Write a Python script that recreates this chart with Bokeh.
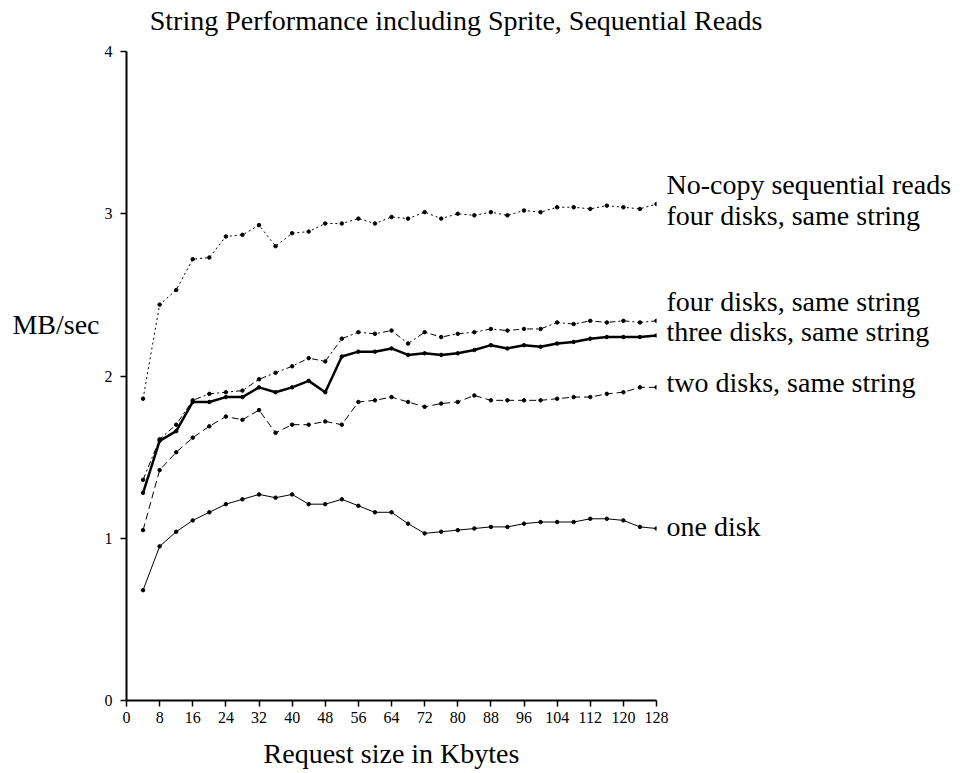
from bokeh.plotting import figure
from bokeh.models import Range1d, FixedTicker, LinearAxis
from bokeh.embed import file_html
from bokeh.resources import INLINE

# Request sizes (Kbytes) and measured throughput (MB/sec)
request_kb = [4, 8, 12, 16, 20, 24, 28, 32, 36, 40, 44, 48, 52, 56, 60, 64,
              68, 72, 76, 80, 84, 88, 92, 96, 100, 104, 108, 112, 116, 120, 124, 128]

nocopy_four = [1.86, 2.44, 2.53, 2.72, 2.73, 2.86, 2.87, 2.93, 2.80, 2.88, 2.89, 2.94,
               2.94, 2.97, 2.94, 2.98, 2.97, 3.01, 2.97, 3.00, 2.99, 3.01, 2.99, 3.02,
               3.01, 3.04, 3.04, 3.03, 3.05, 3.04, 3.03, 3.06]

four_disks = [1.36, 1.61, 1.70, 1.85, 1.89, 1.90, 1.91, 1.98, 2.02, 2.06, 2.11, 2.09,
              2.23, 2.27, 2.26, 2.28, 2.20, 2.27, 2.24, 2.26, 2.27, 2.29, 2.28, 2.29,
              2.29, 2.33, 2.32, 2.34, 2.33, 2.34, 2.33, 2.34]

three_disks = [1.28, 1.60, 1.66, 1.84, 1.84, 1.87, 1.87, 1.93, 1.90, 1.93, 1.97, 1.90,
               2.12, 2.15, 2.15, 2.17, 2.13, 2.14, 2.13, 2.14, 2.16, 2.19, 2.17, 2.19,
               2.18, 2.20, 2.21, 2.23, 2.24, 2.24, 2.24, 2.25]

two_disks = [1.05, 1.42, 1.53, 1.62, 1.69, 1.75, 1.73, 1.79, 1.65, 1.70, 1.70, 1.72,
             1.70, 1.84, 1.85, 1.87, 1.84, 1.81, 1.83, 1.84, 1.88, 1.85, 1.85, 1.85,
             1.85, 1.86, 1.87, 1.87, 1.89, 1.90, 1.93, 1.93]

one_disk = [0.68, 0.95, 1.04, 1.11, 1.16, 1.21, 1.24, 1.27, 1.25, 1.27, 1.21, 1.21,
            1.24, 1.20, 1.16, 1.16, 1.09, 1.03, 1.04, 1.05, 1.06, 1.07, 1.07, 1.09,
            1.10, 1.10, 1.10, 1.12, 1.12, 1.11, 1.07, 1.06]

x_ticks = list(range(0, 129, 8))
y_ticks = [0, 1, 2, 3, 4]

# Curve names written beside the right edge, with the MB/sec height they sit at
curve_names = ["No-copy sequential reads", "four disks, same string",
               "four disks, same string", "three disks, same string",
               "two disks, same string", "one disk"]
curve_name_y = [3.183, 2.992, 2.462, 2.277, 1.957, 1.07]

chart_title = "String Performance including Sprite, Sequential Reads"
chart_title_at = 79.6   # Kbytes position the title is centred over

y_title = "MB/sec"
y_title_at = 2.32

x_title = "Request size in Kbytes"

FONT = "Liberation Serif"

p = figure(width=963, height=773, output_backend="svg", toolbar_location=None,
           title=None,
           x_range=Range1d(0, 128), y_range=Range1d(0, 4),
           min_border_left=126, min_border_right=307,
           min_border_top=51, min_border_bottom=73)
p.outline_line_color = None
p.grid.visible = False
p.background_fill_color = "white"
p.border_fill_color = "white"

for ax in (p.xaxis[0], p.yaxis[0]):
    ax.axis_line_width = 2
    ax.major_tick_line_width = 1.5
    ax.major_tick_in = 0
    ax.major_tick_out = 6
    ax.minor_tick_line_color = None
    ax.major_label_text_font = FONT
    ax.major_label_text_font_size = "16px"
    ax.major_label_text_color = "black"
    ax.axis_line_color = "black"
    ax.major_tick_line_color = "black"
p.xaxis.ticker = FixedTicker(ticks=x_ticks)
p.yaxis.ticker = FixedTicker(ticks=y_ticks)
p.xaxis.major_label_standoff = 5
p.yaxis.major_label_standoff = 8

p.xaxis.axis_label = x_title
p.xaxis.axis_label_text_font = FONT
p.xaxis.axis_label_text_font_size = "28px"
p.xaxis.axis_label_text_font_style = "normal"
p.xaxis.axis_label_text_color = "black"
p.xaxis.axis_label_standoff = 12


def text_axis(ticks, labels, standoff):
    ax = LinearAxis(ticker=FixedTicker(ticks=ticks),
                    major_label_overrides=dict(zip(ticks, labels)))
    ax.axis_line_color = None
    ax.major_tick_line_color = None
    ax.minor_tick_line_color = None
    ax.major_tick_in = 0
    ax.major_tick_out = 0
    ax.major_label_standoff = standoff
    ax.major_label_text_font = FONT
    ax.major_label_text_font_size = "28px"
    ax.major_label_text_color = "black"
    return ax


# chart title across the top
p.add_layout(text_axis([chart_title_at], [chart_title], 16), "above")
# horizontal y-axis title
p.add_layout(text_axis([y_title_at], [y_title], 2), "left")
# curve names at the right
p.add_layout(text_axis(curve_name_y, curve_names, 10), "right")

series = [
    (nocopy_four, dict(line_width=1, line_dash="2 3")),
    (four_disks, dict(line_width=1, line_dash="6 3 2 3")),
    (three_disks, dict(line_width=2.5)),
    (two_disks, dict(line_width=1, line_dash="7 4")),
    (one_disk, dict(line_width=1)),
]
for ys, style in series:
    p.line(request_kb, ys, line_color="black", **style)
    p.scatter(request_kb, ys, marker="circle", size=3.5,
              fill_color="black", line_color="black")

open("out.html", "w").write(file_html(p, INLINE))
